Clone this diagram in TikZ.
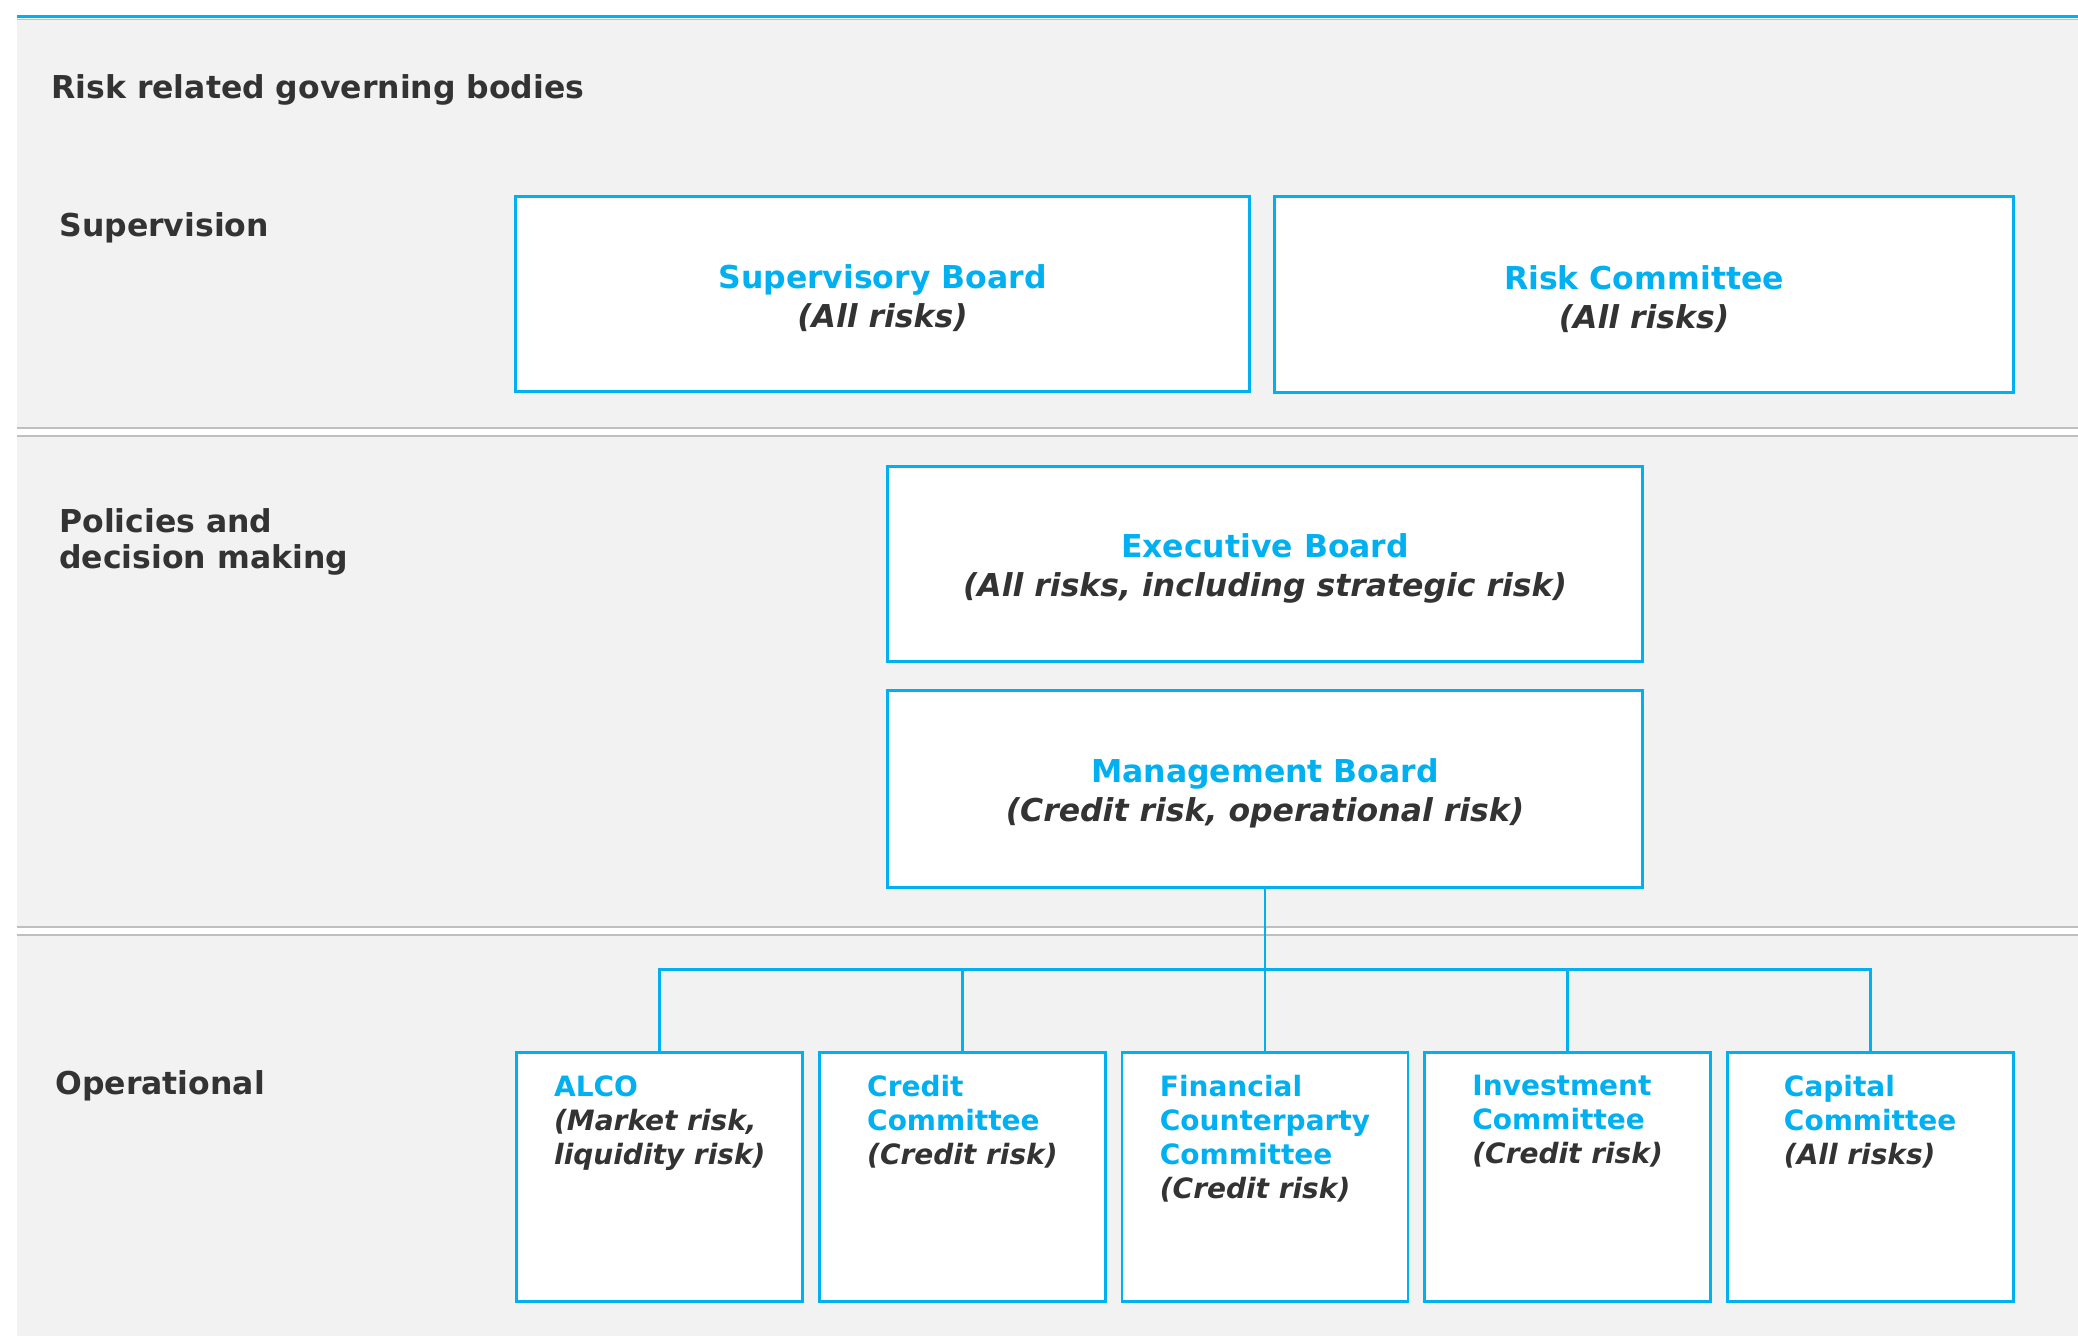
\documentclass[tikz,border=0pt]{standalone}
\usepackage{fontspec}
\setmainfont{DejaVu Sans}
\usetikzlibrary{positioning}
\definecolor{govblue}{HTML}{00B0F0}
\definecolor{govtext}{HTML}{333333}
\definecolor{govpanel}{HTML}{F2F2F2}
\definecolor{govrule}{HTML}{BFBFBF}
\newcommand{\bodyname}[1]{\textcolor{govblue}{#1}}
\newcommand{\boardname}[1]{\textcolor{govblue}{\rule{0pt}{16.5pt}#1}}

\begin{document}
\begin{tikzpicture}
  [x=0.5pt,y=-0.5pt,every node/.style={text=govtext,font=\bfseries\fontsize{15.75}{19.5}\selectfont}]
  \tikzstyle{body}=[draw=govblue,line width=1.45pt,fill=white,align=center,inner sep=0pt]
  \tikzstyle{committee}=[body,minimum width=143pt,minimum height=124.7pt]
  \tikzstyle{heading}=[anchor=base west,inner sep=0pt,align=left]
  \tikzstyle{small}=[inner sep=0pt,align=left,font=\bfseries\fontsize{14}{17}\selectfont]
  \tikzstyle{link}=[draw=govblue,line width=1.35pt]
  \useasboundingbox (0,0) rectangle (2078,1336);
  % panel and rules
  \fill[govpanel] (17,18) rectangle (2078,1336);
  \draw[govblue,line width=1.5pt] (17,16.5) -- (2078,16.5);
  \draw[govrule,line width=0.4pt] (17,19.5) -- (2078,19.5);
  \fill[white] (17,428) rectangle (2078,436);
  \draw[govrule,line width=0.6pt] (17,428) -- (2078,428) (17,436) -- (2078,436);
  \fill[white] (17,927) rectangle (2078,935);
  \draw[govrule,line width=0.6pt] (17,927) -- (2078,927) (17,935) -- (2078,935);

  \node[heading] (title) at (51,99) {Risk related governing bodies};
  \begin{scope}
    \node[heading] (supervision) at (59,237) {Supervision};
    \node[body,minimum width=367.2pt,minimum height=97.7pt] (sup) at (882.5,294)
      {\boardname{Supervisory Board}\\\textit{(All risks)}};
    \node[body,minimum width=369.2pt,minimum height=97.7pt] (riskc) at (1644,294.5)
      {\boardname{Risk Committee}\\\textit{(All risks)}};
  \end{scope}
  \begin{scope}
    \node[heading,anchor=north west,font=\bfseries\fontsize{15.75}{18}\selectfont] (policies) at (59,508)
      {Policies and\\decision making};
    \node[body,minimum width=377.1pt,minimum height=97.5pt] (exec) at (1265,563.9)
      {\boardname{Executive Board}\\\textit{(All risks, including strategic risk)}};
    \node[body,minimum width=377.1pt,minimum height=98.7pt] (mgmt) at (1265,789)
      {\boardname{Management Board}\\\textit{(Credit risk, operational risk)}};
  \end{scope}
  \begin{scope}
    \node[heading] (operational) at (55,1094) {Operational};
    \node[committee] (alco) at (659.8,1177) {};
    \node[committee] (credit) at (962.4,1177) {};
    \node[committee] (fincp) at (1265,1177) {};
    \node[committee] (invest) at (1567.6,1177) {};
    \node[committee] (capital) at (1870.2,1177) {};
    \node[small,below=12pt of alco.north] (alco-t)
      {\bodyname{ALCO}\\\textit{(Market risk,}\\\textit{liquidity risk)}};
    \node[small,below=12pt of credit.north] (credit-t)
      {\bodyname{Credit}\\\bodyname{Committee}\\\textit{(Credit risk)}};
    \node[small,below=12pt of fincp.north] (fincp-t)
      {\bodyname{Financial}\\\bodyname{Counterparty}\\\bodyname{Committee}\\\textit{(Credit risk)}};
    \node[small,below=12pt of invest.north] (invest-t)
      {\bodyname{Investment}\\\bodyname{Committee}\\\textit{(Credit risk)}};
    \node[small,below=12pt of capital.north] (capital-t)
      {\bodyname{Capital}\\\bodyname{Committee}\\\textit{(All risks)}};
  \end{scope}

  \coordinate (bus) at (1265,969.5);
  \draw[link] (mgmt.south) -- (bus);
  \draw[link] (alco.north) |- (bus);
  \draw[link] (credit.north) |- (bus);
  \draw[link] (fincp.north) |- (bus);
  \draw[link] (invest.north) |- (bus);
  \draw[link] (capital.north) |- (bus);

\end{tikzpicture}
\end{document}
